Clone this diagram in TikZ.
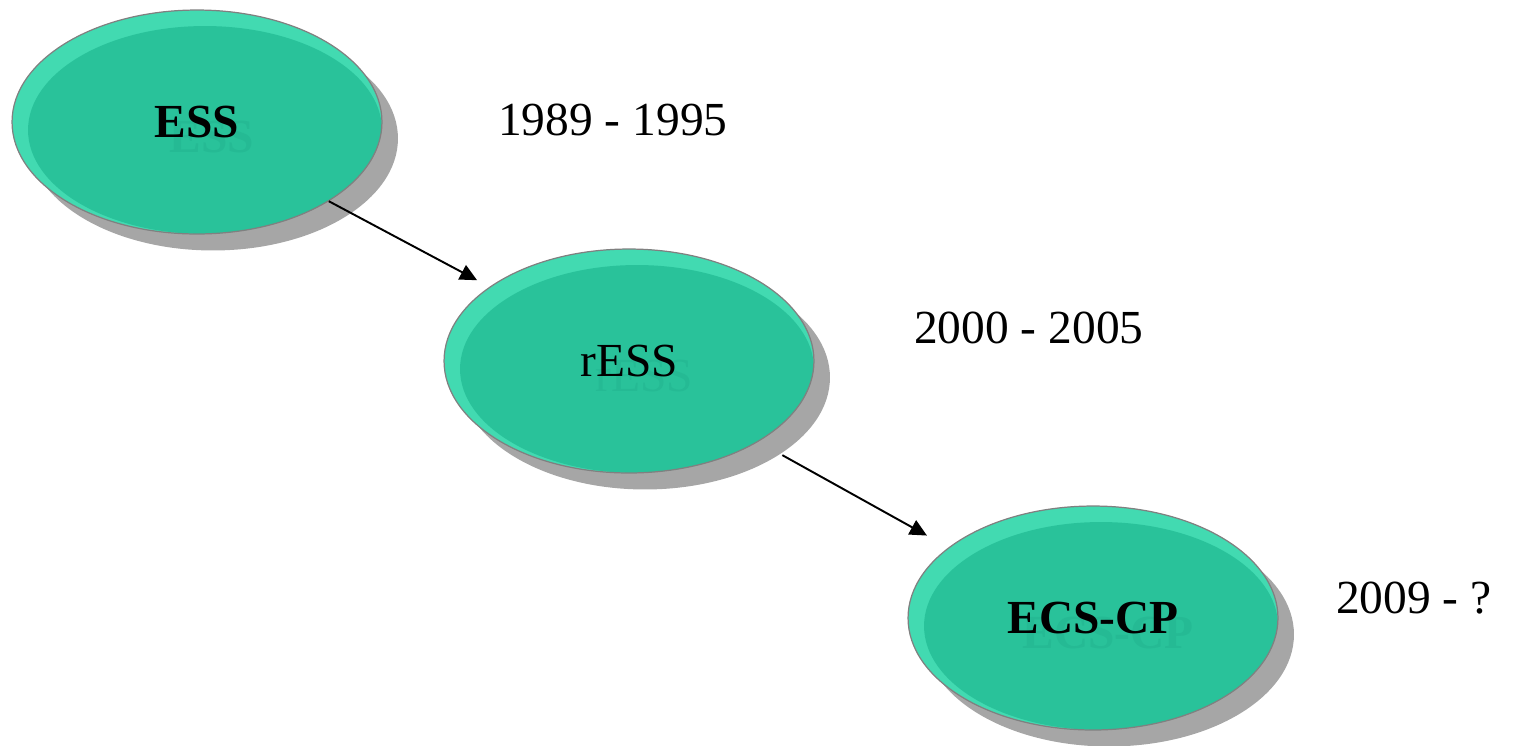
\documentclass[tikz,border=0pt]{standalone}
\usepackage{fontspec}
\setmainfont{Liberation Serif}
\usepackage{xcolor}
\usepackage{tikz}
\usetikzlibrary{arrows.meta, shapes.geometric, shadows}

\definecolor{lightgreen}{HTML}{42DAB1}
\definecolor{midgreen}{HTML}{29C29A}
\definecolor{ghostgreen}{HTML}{25BA94}
\definecolor{shadowgray}{HTML}{A6A6A6}
\definecolor{rimgray}{HTML}{808080}

\tikzset{
	stage/.style={ellipse, draw=rimgray, line width=0.7pt, fill=lightgreen,
		minimum width=7.4cm, minimum height=4.48cm, inner sep=0pt,
		font=\fontsize{27}{32}\selectfont,
		drop shadow={shadow xshift=0.32cm, shadow yshift=-0.33cm, fill=shadowgray, opacity=1},
		path picture={
			\fill[midgreen] ([xshift=0.16cm,yshift=-0.16cm]path picture bounding box.center) ellipse (3.54cm and 2.08cm);
			\node[text=ghostgreen, font=\fontsize{27}{32}\selectfont] at ([xshift=0.3cm,yshift=-0.3cm]path picture bounding box.center) {#1};
		}},
	years/.style={anchor=west, font=\fontsize{27}{32}\selectfont},
	flow/.style={-{Triangle[length=0.34cm,width=0.32cm]}, line width=1.1pt}
}

\begin{document}
\begin{tikzpicture}[x=0.02cm, y=-0.02cm]
	\useasboundingbox (0,0) rectangle (1533,745);
	\node[stage={\bfseries ESS}] (ess) at (197,122) {\bfseries ESS};
	\node[stage={rESS}] (ress) at (629,361) {rESS};
	\node[stage={\bfseries ECS-CP}] (ecscp) at (1093,618) {\bfseries ECS-CP};
	\node[years] (y1) at (492,120) {1989 - 1995};
	\node[years] (y2) at (908,328) {2000 - 2005};
	\node[years] (y3) at (1330,598) {2009 - ?};
	\draw[flow, shorten >=0.28cm] (ess.-31) -- (ress.152);
	\draw[flow, shorten <=0.55cm, shorten >=0.49cm] (ress.-32) -- (ecscp.154);
\end{tikzpicture}
\end{document}
